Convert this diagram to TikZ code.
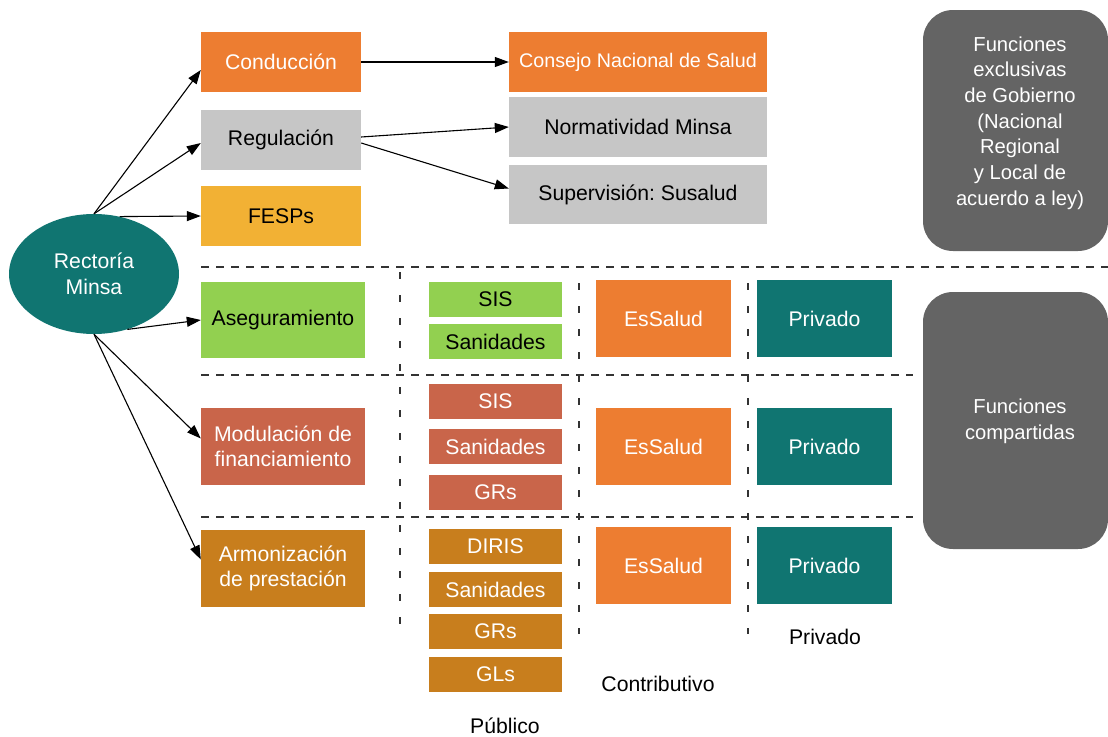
\documentclass[tikz,border=0pt]{standalone}
\usepackage{fontspec}
\setmainfont{Liberation Sans}
\usetikzlibrary{arrows.meta,shapes.geometric}
\definecolor{corange}{HTML}{ED7D31}
\definecolor{cgray}{HTML}{C6C6C6}
\definecolor{cyellow}{HTML}{F2B134}
\definecolor{cteal}{HTML}{107571}
\definecolor{cgreen}{HTML}{92D050}
\definecolor{cred}{HTML}{C9654A}
\definecolor{cbrown}{HTML}{C87E1D}
\definecolor{cdark}{HTML}{646464}
\definecolor{cdash}{HTML}{333333}
\begin{document}
\frenchspacing
\begin{tikzpicture}[x=1pt,y=-1pt,
  box/.style={rectangle, inner sep=0pt, align=center, font=\fontsize{21.2}{25.5}\selectfont},
  fbox/.style={box, minimum width=160pt, minimum height=60pt},
  bbox/.style={box, minimum width=164pt, minimum height=77pt},
  wbox/.style={box, minimum width=258pt, minimum height=60pt},
  sbox/.style={box, minimum width=133pt, minimum height=35pt},
  mbox/.style={box, minimum width=135pt, minimum height=77pt},
  lbl/.style={inner sep=0pt, align=center, font=\fontsize{21.2}{25.5}\selectfont},
  conn/.style={draw=black, line width=1.1pt, -{Triangle[length=14pt,width=10pt]}},
  hdash/.style={draw=cdash, line width=1.3pt, dash pattern=on 7.5pt off 7.5pt},
  vdash/.style={draw=cdash, line width=1.3pt, dash pattern=on 7pt off 16pt},
  gbox/.style={rectangle, rounded corners=30pt, fill=cdark, inner sep=0pt, minimum width=185pt}
]
\useasboundingbox (0,0) rectangle (1108,736);

% dashed separators
\draw[hdash] (201,267) -- (1108,267);
\draw[hdash] (201,375) -- (913,375);
\draw[hdash] (201,517) -- (913,517);
\draw[vdash] (400,272) -- (400,628);
\draw[vdash] (579,283) -- (579,634);
\draw[vdash] (748,283) -- (748,634);

% gray side boxes
\node[gbox, minimum height=241pt] (g1) at (1015.5,130.5) {};
\node[lbl, text=white, font=\fontsize{20.2}{25.7}\selectfont] (g1t) at (1020,123)
  {Funciones\\exclusivas\\de Gobierno\\(Nacional\\Regional\\y Local de\\acuerdo a ley)};
\node[gbox, minimum height=257pt] (g2) at (1015.5,420.5) {};
\node[lbl, text=white, font=\fontsize{20.2}{26}\selectfont] (g2t) at (1020,421) {Funciones\\compartidas};

% ellipse
\node[ellipse, fill=cteal, inner sep=0pt, minimum width=170pt, minimum height=120pt,
  align=center, text=white, font=\fontsize{21.2}{26}\selectfont] (ell) at (94,274) {Rector\'ia\\Minsa};

% left column
\node[fbox, fill=corange, text=white] (cond) at (281,62) {Conducci\'on};
\node[fbox, fill=cgray] (reg) at (281,140) {Regulaci\'on};
\node[fbox, fill=cyellow] (fesps) at (281,216) {FESPs};
\node[bbox, fill=cgreen, minimum height=76pt] (aseg) at (283,320) {Aseguramiento};
\node[bbox, fill=cred, text=white] (mod) at (283,446.5) {Modulaci\'on de\\financiamiento};
\node[bbox, fill=cbrown, text=white] (arm) at (283,568.5) {Armonizaci\'on\\de prestaci\'on};

% top right column
\node[wbox, fill=corange, text=white, font=\fontsize{19.7}{24}\selectfont] (cons) at (638,62) {Consejo Nacional de Salud};
\node[wbox, fill=cgray] (norm) at (638,127) {Normatividad Minsa};
\node[wbox, fill=cgray, minimum height=59pt] (sup) at (638,194.5) {Supervisi\'on: Susalud};

% row 1
\node[sbox, fill=cgreen] (sis1) at (495.5,299.5) {SIS};
\node[sbox, fill=cgreen] (san1) at (495.5,341.5) {Sanidades};
\node[mbox, fill=corange, text=white] (ess1) at (663.5,318.5) {EsSalud};
\node[mbox, fill=cteal, text=white] (pri1) at (824.5,318.5) {Privado};

% row 2
\node[sbox, fill=cred, text=white] (sis2) at (495.5,401.5) {SIS};
\node[sbox, fill=cred, text=white] (san2) at (495.5,446.5) {Sanidades};
\node[sbox, fill=cred, text=white] (grs2) at (495.5,492.5) {GRs};
\node[mbox, fill=corange, text=white] (ess2) at (663.5,446.5) {EsSalud};
\node[mbox, fill=cteal, text=white] (pri2) at (824.5,446.5) {Privado};

% row 3
\node[sbox, fill=cbrown, text=white] (diris) at (495.5,546.5) {DIRIS};
\node[sbox, fill=cbrown, text=white] (san3) at (495.5,589.5) {Sanidades};
\node[sbox, fill=cbrown, text=white] (grs3) at (495.5,631.5) {GRs};
\node[sbox, fill=cbrown, text=white] (gls) at (495.5,674.5) {GLs};
\node[mbox, fill=corange, text=white] (ess3) at (663.5,565.5) {EsSalud};
\node[mbox, fill=cteal, text=white] (pri3) at (824.5,565.5) {Privado};

% column labels
\node[lbl] (lpriv) at (825,637) {Privado};
\node[lbl] (lcont) at (658,684) {Contributivo};
\node[lbl] (lpub) at (505,726) {P\'ublico};

% connectors
\draw[conn] (ell.north) -- ([yshift=-8pt]cond.west);
\draw[conn] (ell.north) -- ([yshift=-3pt]reg.west);
\draw[conn] (ell.66) -- (fesps.west);
\draw[conn] (ell.-59) -- (aseg.west);
\draw[conn] (ell.south) -- ([yshift=8pt]mod.west);
\draw[conn] (ell.south) -- ([yshift=9pt]arm.west);
\draw[conn] (cond.east) -- (cons.west);
\draw[conn] ([yshift=3pt]reg.east) -- (norm.west);
\draw[conn] ([yshift=-3pt]reg.east) -- ([yshift=6pt]sup.west);
\end{tikzpicture}
\end{document}
